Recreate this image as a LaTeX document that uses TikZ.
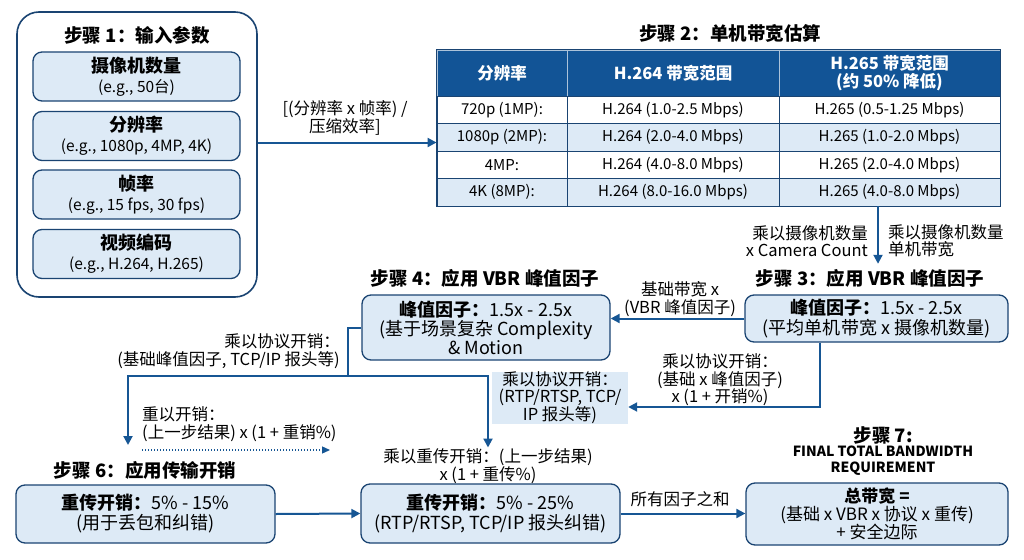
\documentclass[tikz,border=0pt]{standalone}
\usepackage{fontspec}
\setmainfont{Noto Sans CJK SC}
\definecolor{marino}{RGB}{26,68,114}
\definecolor{flecha}{RGB}{22,86,148}
\definecolor{cabecera}{RGB}{18,84,150}
\definecolor{celeste}{RGB}{221,234,246}
\usetikzlibrary{arrows.meta,positioning,calc}

\begin{document}
\begin{tikzpicture}[x=1pt,y=-1pt,
    caja/.style={draw=marino,fill=celeste,line width=1.3pt,rounded corners=9pt,
      align=center,inner sep=2pt,font=\fontsize{18}{20}\selectfont},
    titulo/.style={font=\fontsize{18.5}{20}\selectfont\bfseries,inner sep=1pt},
    nota/.style={font=\fontsize{16.5}{17.5}\selectfont,align=center,inner sep=1pt},
    flujo/.style={-{Triangle[length=9pt,width=9pt]},flecha,line width=2pt},
    celda/.style={draw=marino,line width=0.9pt,minimum height=27.5pt,inner sep=0pt,
      font=\fontsize{15}{16}\selectfont},
    cabeza/.style={celda,fill=cabecera,text=white,draw=white!65!cabecera,
      minimum height=46pt,align=center,font=\fontsize{16.5}{18}\selectfont\bfseries},
  ]
  \useasboundingbox (0,0) rectangle (1024,559);

  % paso 1: entradas
  \node[draw=marino,line width=1.6pt,rounded corners=22pt,fill=white,
        minimum width=240pt,minimum height=285pt] (p1) at (137,154.5) {};
  \node[titulo] (t1) at (137,35) {步骤 1：输入参数};
  \node[caja,minimum width=207pt,minimum height=49pt] (camaras) at (136.5,76.5)
    {\textbf{摄像机数量}\\{\fontsize{15.5}{17}\selectfont(e.g., 50台)}};
  \node[caja,minimum width=207pt,minimum height=49pt] (resol) at (136.5,136)
    {\textbf{分辨率}\\{\fontsize{15.5}{17}\selectfont(e.g., 1080p, 4MP, 4K)}};
  \node[caja,minimum width=207pt,minimum height=49pt] (fps) at (136.5,194.5)
    {\textbf{帧率}\\{\fontsize{15.5}{17}\selectfont(e.g., 15 fps, 30 fps)}};
  \node[caja,minimum width=207pt,minimum height=49pt] (codec) at (136.5,254)
    {\textbf{视频编码}\\{\fontsize{15.5}{17}\selectfont(e.g., H.264, H.265)}};

  % paso 2: tabla
  \node[titulo] (t2) at (730,33) {步骤 2：单机带宽估算};
  \node[cabeza,minimum width=130pt] (c0-1) at (502,73) {分辨率};
  \node[cabeza,minimum width=212pt] (c0-2) at (673,73) {H.264 带宽范围};
  \node[cabeza,minimum width=221pt] (c0-3) at (889.5,73) {H.265 带宽范围\\(约 50\% 降低)};
  \foreach \f/\y/\res/\hA/\hB/\fondo in {
      1/109.75/720p (1MP):/H.264 (1.0-2.5 Mbps)/H.265 (0.5-1.25 Mbps)/white,
      2/137.25/1080p (2MP):/H.264 (2.0-4.0 Mbps)/H.265 (1.0-2.0 Mbps)/celeste,
      3/164.75/4MP:/H.264 (4.0-8.0 Mbps)/H.265 (2.0-4.0 Mbps)/white,
      4/192.25/4K (8MP):/H.264 (8.0-16.0 Mbps)/H.265 (4.0-8.0 Mbps)/celeste}{
    \node[celda,fill=\fondo,minimum width=130pt] (c\f-1) at (502,\y) {\res};
    \node[celda,fill=\fondo,minimum width=212pt] (c\f-2) at (673,\y) {\hA};
    \node[celda,fill=\fondo,minimum width=221pt] (c\f-3) at (889.5,\y) {\hB};
  }
  \draw[marino,line width=1.3pt] (c0-1.north west) rectangle (c4-3.south east);

  \draw[flujo] ([yshift=12pt]p1.east) -- ([yshift=12pt]p1.east -| c0-1.west);
  \node[nota] (lres) at (345,118) {[(分辨率 x 帧率) /\\压缩效率]};

  % paso 3
  \node[titulo] (t3) at (870,278) {步骤 3：应用 VBR 峰值因子};
  \draw[flujo] ([xshift=-11.5pt]c4-3.south) -- ([xshift=-11.5pt,yshift=4pt]c4-3.south |- t3.north);
  \node[nota,anchor=east,align=right] (lcam1) at (869,241) {乘以摄像机数量\\x Camera Count};
  \node[nota,anchor=west,align=left] (lcam2) at (887,241) {乘以摄像机数量\\单机带宽};
  \node[caja,minimum width=263pt,minimum height=47pt] (p3) at (876.5,318.5)
    {\textbf{峰值因子：}1.5x - 2.5x\\(平均单机带宽 x 摄像机数量)};

  % paso 4
  \node[titulo] (t4) at (485,278) {步骤 4：应用 VBR 峰值因子};
  \node[caja,minimum width=248pt,minimum height=65pt,font=\fontsize{18}{19}\selectfont] (p4) at (486,327.5)
    {\textbf{峰值因子：}1.5x - 2.5x\\(基于场景复杂 Complexity\\\& Motion};
  \draw[flujo] (p3.west) -- (p4.east |- p3.west);
  \node[nota] (lvbr) at (680,299) {基础带宽 x\\(VBR 峰值因子)};

  % protocolo
  \node[fill=celeste,minimum width=136pt,minimum height=52pt,inner sep=0pt,
        font=\fontsize{16.5}{17}\selectfont,align=center] (nproto) at (560,398)
    {乘以协议开销：\\(RTP/RTSP, TCP/\\IP 报头等)};
  \draw[flujo] ([xshift=-56.5pt]p3.south) |- ([yshift=-9pt]nproto.east);
  \node[nota] (lproto) at (720,380) {乘以协议开销：\\(基础 x 峰值因子)\\x (1 + 开销\%)};

  % ramas desde paso 4
  \coordinate (nudo) at (348,376);
  \coordinate (codo6) at (128,445);
  \node[nota] (l5) at (488,466) {乘以重传开销：(上一步结果)\\x (1 + 重传\%)};
  \draw[flecha,line width=2pt] (p4.west) -| (nudo);
  \draw[flujo] (nudo) -| (codo6);
  \draw[flujo] (nudo) -| (l5.north);
  \node[nota,anchor=east,align=right] (lbase) at (341,351) {乘以协议开销：\\(基础峰值因子, TCP/IP 报头等)};

  \node[nota,anchor=west,align=left] (lre) at (141,424) {重以开销：\\(上一步结果) x (1 + 重销\%)};
  \coordinate (pa) at (142,450);
  \coordinate (pb) at (330,450);
  \draw[flecha,line width=1.3pt,dash pattern=on 1.3pt off 1.7pt,
        -{Triangle[length=8pt,width=7pt]}] (pa) -- (pb);

  % paso 6 y paso 5
  \node[titulo] (t6) at (145,470) {步骤 6：应用传输开销};
  \node[caja,minimum width=259pt,minimum height=58pt] (p6) at (145.5,514)
    {\textbf{重传开销：}5\% - 15\%\\(用于丢包和纠错)};
  \node[caja,minimum width=259pt,minimum height=59pt] (p5) at (490.5,513.5)
    {\textbf{重传开销：}5\% - 25\%\\(RTP/RTSP, TCP/IP 报头纠错)};
  \draw[flujo] (p6.east) -- (p5.west);

  % paso 7
  \node[titulo] (t7) at (883,435) {步骤 7:};
  \node[font=\fontsize{14}{16}\selectfont\bfseries,align=center,inner sep=0pt] (t7b) at (883,461)
    {FINAL TOTAL BANDWIDTH\\REQUIREMENT};
  \node[caja,minimum width=262pt,minimum height=62pt,font=\fontsize{17}{18}\selectfont] (p7) at (877,514)
    {\textbf{总带宽 =}\\(基础 x VBR x 协议 x 重传)\\+ 安全边际};
  \draw[flujo] (p5.east) -- (p7.west |- p5.east);
  \node[nota] (lsuma) at (680,499) {所有因子之和};
\end{tikzpicture}
\end{document}
